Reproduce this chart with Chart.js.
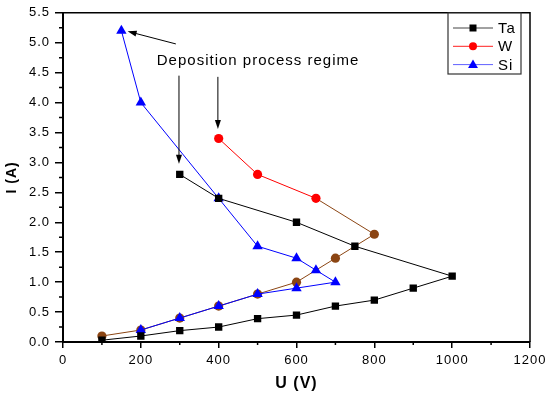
<!DOCTYPE html>
<html>
<head>
<meta charset="utf-8">
<script src="https://cdn.jsdelivr.net/npm/chart.js@4.4.0/dist/chart.umd.min.js"></script>
<style>
  html, body { margin: 0; padding: 0; background: #fff; }
  #wrap { width: 550px; height: 397px; }
</style>
</head>
<body>
<div id="wrap"><canvas id="chart"></canvas></div>
<script>
// values: U (V) and I (A)
const taU = [100, 200, 300, 400, 500, 600, 700, 800, 900, 1000, 750, 600, 400, 300];
const taI = [0.03, 0.1, 0.19, 0.25, 0.39, 0.45, 0.6, 0.7, 0.9, 1.1, 1.6, 2.0, 2.4, 2.8];
const wU = [100, 200, 300, 400, 500, 600, 700, 800, 650, 500, 400];
const wI = [0.1, 0.2, 0.4, 0.6, 0.8, 1.0, 1.4, 1.8, 2.4, 2.8, 3.4];
const siU = [150, 200, 400, 500, 600, 650, 700, 600, 500, 400, 300, 200];
const siI = [5.2, 4.0, 2.4, 1.6, 1.4, 1.2, 1.0, 0.9, 0.8, 0.6, 0.4, 0.2];

const xTicks = [0, 200, 400, 600, 800, 1000, 1200];
const yTicks = [0, 0.5, 1, 1.5, 2, 2.5, 3, 3.5, 4, 4.5, 5, 5.5];
const seriesNames = ['Ta', 'W', 'Si'];
const noteText = 'Deposition process regime';

const FONT = '"Liberation Sans", Arial, sans-serif';
const BROWN = '#8B4513';

function pts(xs, ys) {
	return xs.map((x, i) => ({ x: x, y: ys[i] }));
}

// W: the lower branch is drawn brown in the original, the upper branch red
const wLowCount = 8;

function drawMarker(ctx, style, x, y, r, color) {
	ctx.fillStyle = color;
	ctx.beginPath();
	if (style === 'rect') {
		ctx.rect(x - r, y - r, 2 * r, 2 * r);
	} else if (style === 'circle') {
		ctx.arc(x, y, r, 0, Math.PI * 2);
	} else {
		ctx.moveTo(x, y - r * 1.15);
		ctx.lineTo(x + r * 1.1, y + r * 0.75);
		ctx.lineTo(x - r * 1.1, y + r * 0.75);
		ctx.closePath();
	}
	ctx.fill();
}

function arrow(ctx, x1, y1, x2, y2) {
	const a = Math.atan2(y2 - y1, x2 - x1);
	const len = 9, half = 3;
	ctx.strokeStyle = '#000';
	ctx.fillStyle = '#000';
	ctx.lineWidth = 1;
	ctx.beginPath();
	ctx.moveTo(x1, y1);
	ctx.lineTo(x2 - Math.cos(a) * len * 0.8, y2 - Math.sin(a) * len * 0.8);
	ctx.stroke();
	ctx.beginPath();
	ctx.moveTo(x2, y2);
	ctx.lineTo(x2 - Math.cos(a) * len - Math.sin(a) * half, y2 - Math.sin(a) * len + Math.cos(a) * half);
	ctx.lineTo(x2 - Math.cos(a) * len + Math.sin(a) * half, y2 - Math.sin(a) * len - Math.cos(a) * half);
	ctx.closePath();
	ctx.fill();
}

const spacingPlugin = {
	id: 'spacing',
	beforeDraw(chart) {
		chart.ctx.letterSpacing = '1px';
	}
};

const extrasPlugin = {
	id: 'extras',
	afterDraw(chart) {
		const ctx = chart.ctx;
		const area = chart.chartArea;
		const xs = chart.scales.x;
		const ys = chart.scales.y;
		ctx.save();

		// frame on top and right
		ctx.strokeStyle = '#000';
		ctx.lineWidth = 1.5;
		ctx.beginPath();
		ctx.moveTo(area.left, area.top);
		ctx.lineTo(area.right, area.top);
		ctx.lineTo(area.right, area.bottom);
		ctx.stroke();

		// minor ticks
		ctx.lineWidth = 1.5;
		ctx.beginPath();
		for (let v = 100; v < 1200; v += 200) {
			const px = xs.getPixelForValue(v);
			ctx.moveTo(px, area.bottom);
			ctx.lineTo(px, area.bottom + 3);
		}
		for (let v = 0.25; v < 5.5; v += 0.5) {
			const py = ys.getPixelForValue(v);
			ctx.moveTo(area.left - 4, py);
			ctx.lineTo(area.left, py);
		}
		ctx.stroke();

		// annotation
		ctx.letterSpacing = '1px';
		ctx.font = '15px ' + FONT;
		ctx.fillStyle = '#000';
		ctx.textAlign = 'left';
		ctx.textBaseline = 'alphabetic';
		ctx.fillText(noteText, xs.getPixelForValue(241), ys.getPixelForValue(4.63));
		arrow(ctx, xs.getPixelForValue(290), ys.getPixelForValue(4.98),
			xs.getPixelForValue(166), ys.getPixelForValue(5.19));
		arrow(ctx, xs.getPixelForValue(298), ys.getPixelForValue(4.45),
			xs.getPixelForValue(298), ys.getPixelForValue(2.98));
		arrow(ctx, xs.getPixelForValue(398), ys.getPixelForValue(4.43),
			xs.getPixelForValue(398), ys.getPixelForValue(3.56));

		// legend box
		const lx = 448, ly = 13, lw = 73, lh = 61;
		ctx.fillStyle = '#fff';
		ctx.fillRect(lx, ly, lw, lh);
		ctx.strokeStyle = '#333';
		ctx.lineWidth = 1.2;
		ctx.strokeRect(lx, ly, lw, lh);
		const styles = ['rect', 'circle', 'triangle'];
		const lineCols = ['#444', '#ff2020', '#6060ff'];
		const markCols = ['#000', '#ff0000', '#0000ff'];
		const sizes = [3.5, 4, 4.5];
		ctx.font = '15px ' + FONT;
		ctx.textBaseline = 'middle';
		seriesNames.forEach((name, i) => {
			const cy = ly + 15 + i * 18.3;
			ctx.strokeStyle = lineCols[i];
			ctx.lineWidth = 1;
			ctx.beginPath();
			ctx.moveTo(lx + 5, cy);
			ctx.lineTo(lx + 45, cy);
			ctx.stroke();
			drawMarker(ctx, styles[i], lx + 25, cy, sizes[i], markCols[i]);
			ctx.fillStyle = '#000';
			ctx.fillText(name, lx + 50, cy + 1);
		});
		ctx.restore();
	}
};

new Chart(document.getElementById('chart').getContext('2d'), {
	type: 'scatter',
	data: {
		datasets: [{
			label: seriesNames[0],
			data: pts(taU, taI),
			showLine: true,
			borderColor: '#000',
			backgroundColor: '#000',
			borderWidth: 1,
			pointStyle: 'rect',
			pointRadius: 5.2,
			pointBorderWidth: 0,
			order: 0
		}, {
			label: seriesNames[1],
			data: pts(wU, wI),
			showLine: true,
			borderColor: '#ff0000',
			borderWidth: 1,
			segment: {
				borderColor: c => c.p0DataIndex < wLowCount ? BROWN : '#ff0000'
			},
			pointStyle: 'circle',
			pointRadius: 4.6,
			pointBorderWidth: 0,
			pointBackgroundColor: c => c.dataIndex < wLowCount ? BROWN : '#ff0000',
			order: 2
		}, {
			label: seriesNames[2],
			data: pts(siU, siI),
			showLine: true,
			borderColor: '#0000ff',
			backgroundColor: '#0000ff',
			borderWidth: 1,
			pointStyle: 'triangle',
			pointRadius: 6,
			pointBorderWidth: 0,
			order: 1
		}]
	},
	options: {
		responsive: true,
		maintainAspectRatio: false,
		animation: false,
		layout: { padding: { top: 11, right: 20, left: 0, bottom: 0 } },
		scales: {
			x: {
				type: 'linear',
				min: 0,
				max: 1200,
				afterFit: s => { s.height = 55; },
				afterBuildTicks: s => { s.ticks = xTicks.map(v => ({ value: v })); },
				grid: { drawOnChartArea: false, color: '#000', lineWidth: 1.5, tickLength: 6 },
				border: { color: '#000', width: 2 },
				ticks: {
					color: '#000',
					font: { family: FONT, size: 13 },
					padding: 5,
					maxRotation: 0,
					callback: v => String(v)
				},
				title: {
					display: true,
					text: 'U (V)',
					color: '#000',
					font: { family: FONT, size: 16, weight: 'bold' },
					padding: { top: 0, bottom: 4 }
				}
			},
			y: {
				type: 'linear',
				min: 0,
				max: 5.5,
				afterFit: s => { s.width = 63; },
				afterBuildTicks: s => { s.ticks = yTicks.map(v => ({ value: v })); },
				grid: { drawOnChartArea: false, color: '#000', lineWidth: 1.5, tickLength: 8 },
				border: { color: '#000', width: 2 },
				ticks: {
					color: '#000',
					font: { family: FONT, size: 13 },
					padding: 5,
					callback: v => v.toFixed(1)
				},
				title: {
					display: true,
					text: 'I (A)',
					color: '#000',
					font: { family: FONT, size: 14, weight: 'bold' },
					padding: { top: 4, bottom: 0 }
				}
			}
		},
		plugins: {
			legend: { display: false },
			tooltip: { enabled: false }
		}
	},
	plugins: [spacingPlugin, extrasPlugin]
});
</script>
</body>
</html>
